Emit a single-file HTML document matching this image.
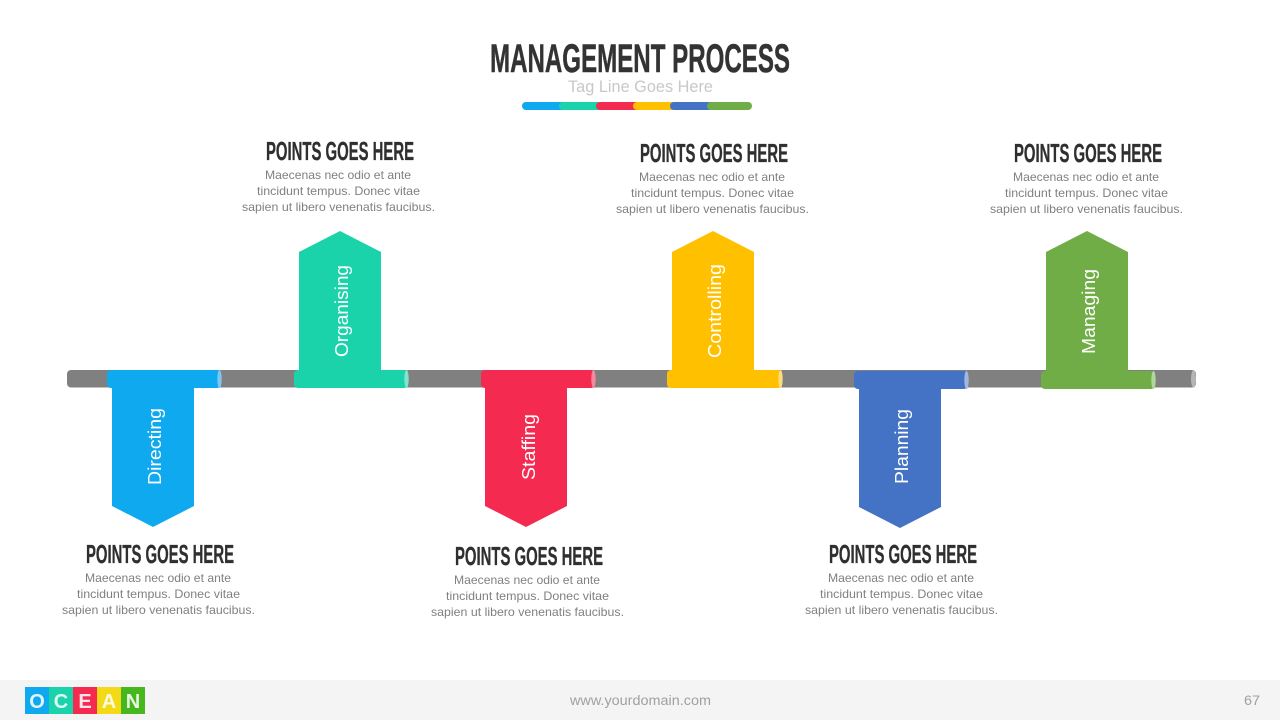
<!DOCTYPE html>
<html><head><meta charset="utf-8"><style>
html,body{margin:0;padding:0;background:#fff}
svg{display:block}
text{font-family:"Liberation Sans",sans-serif}
.t{font-size:26px;font-weight:bold;fill:#2f2f2f;stroke:#2f2f2f;stroke-width:.35}
.b{font-size:12px;fill:#808080}
.v{font-size:18px;fill:#fff}
.l{font-size:20px;font-weight:bold;fill:#fff;fill-opacity:.88;text-anchor:middle}
</style></head><body>
<svg width="1280" height="720" viewBox="0 0 1280 720" xmlns="http://www.w3.org/2000/svg">
<rect width="1280" height="720" fill="#fff"/>

<text x="490" y="72" font-size="40" font-weight="bold" fill="#333" stroke="#333" stroke-width=".5" textLength="300" lengthAdjust="spacingAndGlyphs">MANAGEMENT PROCESS</text>
<text x="568" y="92" font-size="17" fill="#c8c8c8" textLength="145" lengthAdjust="spacingAndGlyphs">Tag Line Goes Here</text>
<rect x="522" y="102" width="45" height="8" rx="4" fill="#0fa9f0"/>
<rect x="559" y="102" width="45" height="8" rx="4" fill="#1ad3ab"/>
<rect x="596" y="102" width="45" height="8" rx="4" fill="#f42a50"/>
<rect x="633" y="102" width="45" height="8" rx="4" fill="#ffc000"/>
<rect x="670" y="102" width="45" height="8" rx="4" fill="#4472c4"/>
<rect x="707" y="102" width="45" height="8" rx="4" fill="#70ad47"/>

<rect x="67" y="370" width="1129" height="17.5" rx="4" fill="#808080"/>
<ellipse cx="1193.500" cy="378.800" rx="2.500" ry="8.700" fill="#b5b5b5"/>

<polygon points="112,388 194,388 194,506 153,527 112,506" fill="#0fa9f0"/>
<rect x="107" y="370" width="114" height="18" rx="4" fill="#0fa9f0"/>
<ellipse cx="219.500" cy="379" rx="2.200" ry="9" fill="#7cc8f3"/>

<polygon points="299,370 299,252 340,231 381,252 381,370" fill="#1ad3ab"/>
<rect x="294" y="370" width="114" height="18" rx="4" fill="#1ad3ab"/>
<ellipse cx="406.500" cy="379" rx="2.200" ry="9" fill="#83e3cd"/>

<polygon points="485,388 567,388 567,506 526,527 485,506" fill="#f42a50"/>
<rect x="481" y="370" width="114" height="18" rx="4" fill="#f42a50"/>
<ellipse cx="593.500" cy="379" rx="2.200" ry="9" fill="#f28a9c"/>

<polygon points="672,370 672,252 713,231 754,252 754,370" fill="#ffc000"/>
<rect x="667" y="370" width="115" height="18" rx="4" fill="#ffc000"/>
<ellipse cx="780.500" cy="379" rx="2.200" ry="9" fill="#fbdc80"/>

<polygon points="859,388 941,388 941,507 900,528 859,507" fill="#4472c4"/>
<rect x="854" y="371" width="114" height="18" rx="4" fill="#4472c4"/>
<ellipse cx="966.500" cy="380" rx="2.200" ry="9" fill="#a0b8e1"/>

<polygon points="1046,371 1046,252 1087,231 1128,252 1128,371" fill="#70ad47"/>
<rect x="1041" y="371" width="114" height="18" rx="4" fill="#70ad47"/>
<ellipse cx="1153.500" cy="380" rx="2.200" ry="9" fill="#b2d59b"/>

<text class="v" transform="translate(161,485) rotate(-90)" textLength="77" lengthAdjust="spacingAndGlyphs">Directing</text>
<text class="v" transform="translate(348,357) rotate(-90)" textLength="92" lengthAdjust="spacingAndGlyphs">Organising</text>
<text class="v" transform="translate(535,480) rotate(-90)" textLength="66" lengthAdjust="spacingAndGlyphs">Staffing</text>
<text class="v" transform="translate(721,358) rotate(-90)" textLength="94" lengthAdjust="spacingAndGlyphs">Controlling</text>
<text class="v" transform="translate(908,484) rotate(-90)" textLength="75" lengthAdjust="spacingAndGlyphs">Planning</text>
<text class="v" transform="translate(1095,354) rotate(-90)" textLength="85" lengthAdjust="spacingAndGlyphs">Managing</text>

<g transform="translate(0,0)">
<text class="t" x="266" y="160" textLength="148" lengthAdjust="spacingAndGlyphs">POINTS GOES HERE</text>
<text class="b" x="265" y="179" textLength="146" lengthAdjust="spacingAndGlyphs">Maecenas nec odio et  ante</text>
<text class="b" x="257" y="195" textLength="163" lengthAdjust="spacingAndGlyphs">tincidunt tempus.  Donec vitae</text>
<text class="b" x="242" y="211" textLength="193" lengthAdjust="spacingAndGlyphs">sapien ut libero venenatis faucibus.</text>
</g>
<g transform="translate(374,2)">
<text class="t" x="266" y="160" textLength="148" lengthAdjust="spacingAndGlyphs">POINTS GOES HERE</text>
<text class="b" x="265" y="179" textLength="146" lengthAdjust="spacingAndGlyphs">Maecenas nec odio et  ante</text>
<text class="b" x="257" y="195" textLength="163" lengthAdjust="spacingAndGlyphs">tincidunt tempus.  Donec vitae</text>
<text class="b" x="242" y="211" textLength="193" lengthAdjust="spacingAndGlyphs">sapien ut libero venenatis faucibus.</text>
</g>
<g transform="translate(748,2)">
<text class="t" x="266" y="160" textLength="148" lengthAdjust="spacingAndGlyphs">POINTS GOES HERE</text>
<text class="b" x="265" y="179" textLength="146" lengthAdjust="spacingAndGlyphs">Maecenas nec odio et  ante</text>
<text class="b" x="257" y="195" textLength="163" lengthAdjust="spacingAndGlyphs">tincidunt tempus.  Donec vitae</text>
<text class="b" x="242" y="211" textLength="193" lengthAdjust="spacingAndGlyphs">sapien ut libero venenatis faucibus.</text>
</g>
<g transform="translate(-180,403)">
<text class="t" x="266" y="160" textLength="148" lengthAdjust="spacingAndGlyphs">POINTS GOES HERE</text>
<text class="b" x="265" y="179" textLength="146" lengthAdjust="spacingAndGlyphs">Maecenas nec odio et  ante</text>
<text class="b" x="257" y="195" textLength="163" lengthAdjust="spacingAndGlyphs">tincidunt tempus.  Donec vitae</text>
<text class="b" x="242" y="211" textLength="193" lengthAdjust="spacingAndGlyphs">sapien ut libero venenatis faucibus.</text>
</g>
<g transform="translate(189,405)">
<text class="t" x="266" y="160" textLength="148" lengthAdjust="spacingAndGlyphs">POINTS GOES HERE</text>
<text class="b" x="265" y="179" textLength="146" lengthAdjust="spacingAndGlyphs">Maecenas nec odio et  ante</text>
<text class="b" x="257" y="195" textLength="163" lengthAdjust="spacingAndGlyphs">tincidunt tempus.  Donec vitae</text>
<text class="b" x="242" y="211" textLength="193" lengthAdjust="spacingAndGlyphs">sapien ut libero venenatis faucibus.</text>
</g>
<g transform="translate(563,403)">
<text class="t" x="266" y="160" textLength="148" lengthAdjust="spacingAndGlyphs">POINTS GOES HERE</text>
<text class="b" x="265" y="179" textLength="146" lengthAdjust="spacingAndGlyphs">Maecenas nec odio et  ante</text>
<text class="b" x="257" y="195" textLength="163" lengthAdjust="spacingAndGlyphs">tincidunt tempus.  Donec vitae</text>
<text class="b" x="242" y="211" textLength="193" lengthAdjust="spacingAndGlyphs">sapien ut libero venenatis faucibus.</text>
</g>

<rect x="0" y="680" width="1280" height="40" fill="#f4f4f4"/>
<rect x="25" y="687" width="24" height="27" fill="#0fa9f0"/>
<rect x="49" y="687" width="24" height="27" fill="#1ad3ab"/>
<rect x="73" y="687" width="24" height="27" fill="#f42a50"/>
<rect x="97" y="687" width="24" height="27" fill="#f3d916"/>
<rect x="121" y="687" width="24" height="27" fill="#46b71c"/>
<text class="l" x="37" y="708">O</text>
<text class="l" x="61" y="708">C</text>
<text class="l" x="85" y="708">E</text>
<text class="l" x="109" y="708">A</text>
<text class="l" x="133" y="708">N</text>
<text x="570" y="705" font-size="13.500" fill="#a0a0a0" textLength="141" lengthAdjust="spacingAndGlyphs">www.yourdomain.com</text>
<text x="1244" y="705" font-size="13.500" fill="#a0a0a0" textLength="16" lengthAdjust="spacingAndGlyphs">67</text>
</svg>
</body></html>
